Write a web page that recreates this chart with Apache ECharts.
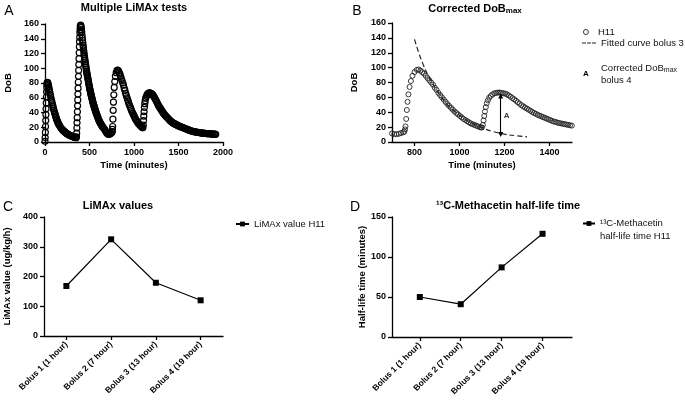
<!DOCTYPE html>
<html><head><meta charset="utf-8">
<script src="https://cdn.jsdelivr.net/npm/echarts@6/dist/echarts.min.js"></script>
<style>html,body{margin:0;padding:0;background:#fff}#c{width:685px;height:403px}</style>
</head><body><div id="c"></div>
<script>
const FONT = '"Liberation Sans", Arial, Helvetica, sans-serif';

// ---- Data: H11 breath test, [time (minutes), DoB] ----
const bolus1Points = [[0,1],[2,6],[4,13],[6,21],[8,29],[10,37],[12,45],[14,53],[16,61],[18,68],[20,74],[22,78],[24,80],[27,81],[30,80.5],[34,79],[38,77],[42,75],[46,72],[50,70],[55,67],[60,64],[65,61],[70,58],[75,55.5],[80,53],[85,50.5],[90,48],[95,45.5],[100,43],[105,41],[110,39],[115,37],[120,35],[125,33],[130,31],[135,29.5],[140,28],[145,26.5],[150,25],[155,24],[160,23],[170,21],[180,19],[190,17.5],[200,16],[210,15],[220,14],[230,13],[240,12],[250,11],[260,10.3],[270,9.6],[280,9],[290,8.4],[300,7.9],[310,7.4],[320,7],[330,6.6],[340,6.2],[350,5.8]];
const bolus2Points = [[354,7],[356,12],[358,19],[360,26],[362,33],[364,41],[366,49],[368,57],[370,65],[372,73],[374,81],[376,89],[378,97],[380,105],[382,113],[384,121],[386,129],[388,136],[390,142],[392,148],[394,152],[396,156],[398,158],[401,158.5],[404,157],[407,155],[410,152],[413,149],[416,145],[419,141],[422,138],[425,134.5],[428,131],[431,128],[434,125],[437,122],[440,119],[443,116],[446,113.5],[449,111],[452,108.5],[455,106],[458,103.5],[461,101],[464,98.5],[467,96],[470,94],[473,92],[476,90],[479,88],[482,86],[485,84],[488,82],[491,80],[494,78],[497,76],[500,74],[503,72],[506,70.5],[509,69],[512,67],[515,65.5],[518,64],[521,62.5],[524,61],[527,59.5],[530,58],[533,56.5],[536,55],[539,53.5],[542,52],[545,51],[548,50],[551,48.5],[554,47.5],[557,46],[560,45],[564,43.5],[568,42],[572,40.5],[576,39],[580,38],[585,36],[590,34.5],[595,33],[600,31],[605,29.7],[610,28.5],[615,27.2],[620,26],[625,25],[630,24],[635,23],[640,22],[645,21],[650,20],[660,18.5],[670,17],[680,15],[690,13],[700,11.5],[710,10.5],[720,10.5],[730,11],[740,12],[750,13],[755,14]];
const bolus3Points = [[758,17],[760,21],[763,31],[766,43],[769,54],[773,64],[778,74],[784,82],[791,89],[800,94],[810,97],[818,97.5],[826,96],[834,94],[842,92],[850,89],[858,86],[866,83],[874,80],[882,77],[890,73],[898,70],[906,66],[914,63],[922,60],[930,57],[938,54],[946,51],[954,48.5],[962,46],[970,43.5],[978,41],[986,39],[994,37],[1002,35],[1010,33],[1018,31],[1026,29.5],[1034,28],[1042,26.5],[1050,25],[1058,24],[1066,23],[1074,22],[1082,21],[1090,20],[1096,19.5],[1100,19.5]];
const bolus4Points = [[1104,23],[1107,29],[1110,35],[1113,41],[1117,47],[1121,52],[1126,56],[1132,59.5],[1139,62],[1147,64],[1155,65.5],[1163,66],[1171,66.5],[1179,66.5],[1187,66],[1195,65.5],[1203,65],[1211,64],[1219,62.5],[1227,61],[1235,59],[1243,57.5],[1251,55.5],[1259,53.5],[1267,51.5],[1275,49.5],[1283,48],[1291,46.5],[1299,45],[1307,43.5],[1315,42],[1323,40.5],[1331,39],[1339,38],[1347,36.5],[1355,35.5],[1363,34.5],[1371,33.5],[1379,32.5],[1387,31.5],[1395,30.5],[1403,29.5],[1411,28.5],[1419,27.5],[1427,27],[1435,26],[1443,25.5],[1451,25],[1459,24.5],[1467,24],[1475,23.5],[1483,23],[1491,22.5],[1499,22],[1510,21.5],[1520,21],[1530,20.5],[1540,20],[1550,19.5],[1560,19],[1570,18.5],[1580,18],[1590,17.5],[1600,17],[1610,16.5],[1620,16],[1630,15.5],[1640,15.2],[1650,14.8],[1660,14.5],[1670,14.2],[1680,14],[1690,13.7],[1700,13.5],[1710,13.2],[1720,13],[1730,12.8],[1740,12.6],[1750,12.4],[1760,12.2],[1770,12],[1780,11.9],[1790,11.8],[1800,11.6],[1810,11.5],[1820,11.4],[1830,11.3],[1840,11.2],[1850,11.1],[1860,11],[1870,10.9],[1880,10.8],[1890,10.8],[1900,10.7],[1910,10.6],[1918,10.5]];

// Fitted curve of bolus 3
const fitTimes  = [800,820,840,860,880,900,925,950,975,1000,1050,1100,1150,1200,1250,1300];
const fitValues = [138,119,103,90,79,69,58,49,42,36,26,19,14,10.5,8.5,7];

// Corrected DoBmax bolus 4 (arrow "A")
const correctionTime = 1183;
const correctionTop = 62;
const correctionBottom = 10;
const correctionLabelDoB = 35;

// Panels C and D
const bolusCategories = ['Bolus 1 (1 hour)', 'Bolus 2 (7 hour)', 'Bolus 3 (13 hour)', 'Bolus 4 (19 hour)'];
const limaxValues = [168, 325, 179, 120];
const halfLifeValues = [50, 41, 87, 129];

const timeTicksB = [800, 1000, 1200, 1400];
const categoryTicks = [1, 2, 3, 4];

// ---- Build ----
const h11Points = bolus1Points.concat(bolus2Points, bolus3Points, bolus4Points);
const fitPoints = fitTimes.map((t, i) => [t, fitValues[i]]);
const limaxPoints = limaxValues.map((v, i) => [categoryTicks[i], v]);
const halfLifePoints = halfLifeValues.map((v, i) => [categoryTicks[i], v]);

const lineC = {color: '#000', width: 1.3};
const plain = v => String(v);
function axis(extra) {
  return Object.assign({
    axisLine: {show: true, onZero: false, lineStyle: lineC},
    axisTick: {show: true, length: 4, lineStyle: lineC},
    axisLabel: {color: '#000', fontFamily: FONT, fontWeight: 'bold', fontSize: 9, margin: 6, formatter: plain},
    splitLine: {show: false},
    nameLocation: 'middle',
    nameTextStyle: {color: '#000', fontFamily: FONT, fontWeight: 'bold', fontSize: 9.5}
  }, extra);
}
function catAxis(extra) {
  const a = axis(extra);
  a.axisTick = {show: true, length: 4, lineStyle: lineC, customValues: categoryTicks};
  a.axisLabel = {color: '#000', fontFamily: FONT, fontWeight: 'bold', fontSize: 8.5, margin: 7, rotate: 45,
    customValues: categoryTicks, formatter: v => bolusCategories[Math.round(v) - 1] || ''};
  return a;
}

const txt = (x, y, text, size, weight, extra) => ({
  type: 'text', x: x, y: y, silent: true,
  style: Object.assign({text: text, fill: '#000', fontFamily: FONT, fontSize: size, fontWeight: weight,
    textAlign: 'center', textVerticalAlign: 'middle'}, extra || {})
});
const legendText = {fontFamily: FONT, fontSize: 9.5, color: '#111'};

const option = {
  animation: false,
  backgroundColor: '#fff',
  grid: [
    {left: 45, top: 24, width: 178, height: 118},
    {left: 392, top: 23, width: 180, height: 119},
    {left: 44, top: 217, width: 179, height: 119},
    {left: 392, top: 217, width: 180, height: 120}
  ],
  xAxis: [
    axis({gridIndex: 0, type: 'value', min: 0, max: 2000, interval: 500, name: 'Time (minutes)', nameGap: 18}),
    axis({gridIndex: 1, type: 'value', min: 700, max: 1500, name: 'Time (minutes)', nameGap: 18,
      axisTick: {show: true, length: 4, lineStyle: lineC, customValues: timeTicksB},
      axisLabel: {color: '#000', fontFamily: FONT, fontWeight: 'bold', fontSize: 9, margin: 6, customValues: timeTicksB, formatter: plain}}),
    catAxis({gridIndex: 2, type: 'value', min: 0.5, max: 4.5}),
    catAxis({gridIndex: 3, type: 'value', min: 0.32, max: 4.72})
  ],
  yAxis: [
    axis({gridIndex: 0, type: 'value', min: 0, max: 160, interval: 20, name: 'DoB', nameGap: 32}),
    axis({gridIndex: 1, type: 'value', min: 0, max: 160, interval: 20, name: 'DoB', nameGap: 33}),
    axis({gridIndex: 2, type: 'value', min: 0, max: 400, interval: 100, name: 'LiMAx value (ug/kg/h)', nameGap: 32}),
    axis({gridIndex: 3, type: 'value', min: 0, max: 150, interval: 50, name: 'Half-life time (minutes)', nameGap: 24})
  ],
  legend: [
    {data: ['H11'], left: 578, top: 22, itemWidth: 14, itemHeight: 5, selectedMode: false, textStyle: legendText,
      itemStyle: {color: 'rgba(0,0,0,0)', borderColor: '#222', borderWidth: 0.9}},
    {data: [{name: 'Fitted curve bolus 3', icon: 'path://M0,0h4v1h-4zM5,0h4v1h-4zM10,0h4v1h-4z'}], left: 577, top: 33,
      itemWidth: 14, itemHeight: 1.2, selectedMode: false, textStyle: legendText, itemStyle: {color: '#222'}},
    {data: [{name: 'Corrected DoBmax bolus 4', icon: 'none'}], orient: 'vertical', left: 577, top: 57, itemWidth: 14,
      selectedMode: false, formatter: () => 'Corrected DoB{sub|max}\nbolus 4',
      textStyle: Object.assign({lineHeight: 12, rich: {sub: {fontFamily: FONT, fontSize: 7, color: '#111', verticalAlign: 'bottom'}}}, legendText)},
    {data: ['LiMAx value H11'], left: 230, top: 214, itemWidth: 13, itemHeight: 6, selectedMode: false, textStyle: legendText},
    {data: ['¹³C-Methacetin\nhalf-life time H11'], left: 577, top: 199, itemWidth: 12, itemHeight: 6, selectedMode: false,
      formatter: n => '\n' + n, textStyle: Object.assign({lineHeight: 13}, legendText)}
  ],
  series: [
    {name: 'H11 all tests', type: 'scatter', xAxisIndex: 0, yAxisIndex: 0, data: h11Points,
      symbol: 'circle', symbolSize: 6, silent: true,
      itemStyle: {color: 'rgba(0,0,0,0)', borderColor: '#000', borderWidth: 1.2, opacity: 1}},
    {name: 'H11', type: 'scatter', xAxisIndex: 1, yAxisIndex: 1, data: h11Points,
      symbol: 'circle', symbolSize: 5, silent: true,
      itemStyle: {color: 'rgba(0,0,0,0)', borderColor: '#222', borderWidth: 0.9, opacity: 1}},
    {name: 'Fitted curve bolus 3', type: 'line', xAxisIndex: 1, yAxisIndex: 1, data: fitPoints, smooth: true,
      symbol: 'none', silent: true, lineStyle: {color: '#222', width: 1.2, type: [5, 3]}, itemStyle: {color: '#222'}},
    {name: 'Corrected DoBmax bolus 4', type: 'line', xAxisIndex: 1, yAxisIndex: 1, data: [], symbol: 'none',
      itemStyle: {color: '#000'}, lineStyle: {color: '#000'},
      markLine: {silent: true, symbol: ['triangle', 'triangle'], symbolSize: [5, 5], animation: false,
        lineStyle: {color: '#000', width: 1.1, type: 'solid'}, label: {show: false},
        data: [[{coord: [correctionTime, correctionTop]}, {coord: [correctionTime, correctionBottom]}]]}},
    {name: 'A label', type: 'scatter', xAxisIndex: 1, yAxisIndex: 1, data: [[correctionTime, correctionLabelDoB]],
      symbol: 'circle', symbolSize: 0, silent: true, itemStyle: {color: 'rgba(0,0,0,0)'},
      label: {show: true, position: 'right', distance: 3, formatter: 'A', color: '#000', fontFamily: FONT, fontWeight: 'bold', fontSize: 8}},
    {name: 'LiMAx value H11', type: 'line', xAxisIndex: 2, yAxisIndex: 2, data: limaxPoints,
      symbol: 'rect', symbolSize: 6, silent: true, itemStyle: {color: '#000'}, lineStyle: {color: '#000', width: 1.2}},
    {name: '¹³C-Methacetin\nhalf-life time H11', type: 'line', xAxisIndex: 3, yAxisIndex: 3, data: halfLifePoints,
      symbol: 'rect', symbolSize: 6, silent: true, itemStyle: {color: '#000'}, lineStyle: {color: '#000', width: 1.2}}
  ],
  graphic: [
    txt(9, 11, 'A', 14, 'normal'),
    txt(357, 11, 'B', 14, 'normal'),
    txt(8, 207, 'C', 14, 'normal'),
    txt(355, 207, 'D', 14, 'normal'),
    txt(134, 8, 'Multiple LiMAx tests', 11, 'bold'),
    txt(475, 9, 'Corrected DoB{sub|max}', 11, 'bold', {rich: {sub: {fontFamily: FONT, fontSize: 8, fontWeight: 'bold', verticalAlign: 'bottom'}}}),
    txt(118, 206, 'LiMAx values', 11, 'bold'),
    txt(508, 206, '¹³C-Methacetin half-life time', 11, 'bold'),
    txt(586, 74, 'A', 8, 'bold')
  ]
};
echarts.init(document.getElementById('c'), null, {renderer: 'canvas'}).setOption(option);
</script></body></html>
